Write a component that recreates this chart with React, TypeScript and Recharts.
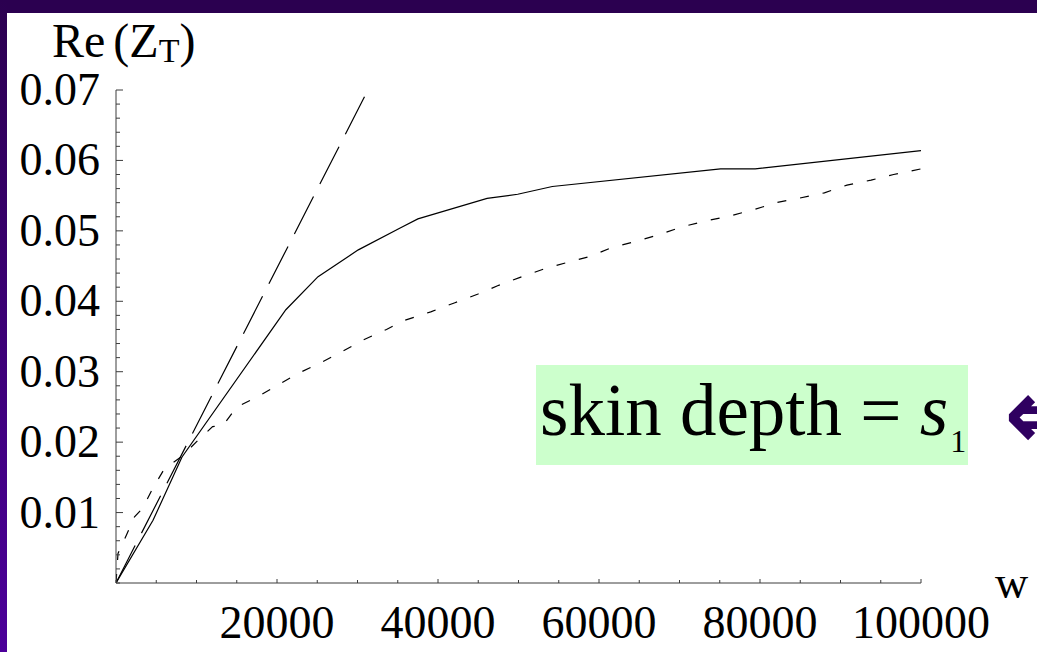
import { Line, LineChart, XAxis, YAxis } from 'recharts';

const W = 1037;
const H = 652;
const SERIF = "'Liberation Serif', 'DejaVu Serif', serif";
const INK = '#000000';
const AXIS = '#3c3c3c';
const FRAME_DARK = '#2b0050';
const FRAME_LIGHT = '#4c009a';
const BOX_GREEN = '#ccffcc';

// low-frequency asymptote
const slopeW = [0, 31300];
const slopeZ = [0, 0.07];

// solid curve
const solidW = [0, 4600, 8200, 21100, 25100, 30100, 35300, 37500, 46100, 49900, 54200, 75100, 79400, 100000];
const solidZ = [0, 0.0089, 0.0179, 0.0388, 0.0435, 0.0473, 0.0504, 0.0517, 0.0546, 0.0552, 0.0563, 0.0588, 0.0588, 0.0614];

// short-dashed curve
const dashW = [
  0, 250, 1300, 2300, 3300, 4500, 6000, 8200, 10400, 12000, 13300, 15000, 17500, 19500, 22500, 25300,
  28000, 30700, 33600, 35600, 39100, 42100, 44900, 47400, 50200, 53200, 56000, 59000, 61500, 64600,
  67600, 70100, 73200, 76200, 79200, 82000, 84700, 88000, 90800, 93800, 96600, 100000,
];
const dashZ = [
  0, 0.0042, 0.0068, 0.0094, 0.0106, 0.0133, 0.0162, 0.018, 0.0205, 0.0222, 0.0224, 0.025, 0.0264, 0.0277, 0.0297, 0.0312,
  0.0328, 0.0345, 0.036, 0.0372, 0.0385, 0.0398, 0.041, 0.0422, 0.0434, 0.0446, 0.0455, 0.0464, 0.0476, 0.0485,
  0.0495, 0.0505, 0.0514, 0.0521, 0.053, 0.054, 0.0546, 0.0554, 0.0565, 0.0572, 0.058, 0.0588,
];

const Y_LABELS = ['0.01', '0.02', '0.03', '0.04', '0.05', '0.06', '0.07'];
const X_LABELS = ['20000', '40000', '60000', '80000', '100000'];

const yTicks = Array.from({ length: 36 }, (_, i) => +(i * 0.002).toFixed(3));
const xTicks = Array.from({ length: 21 }, (_, i) => i * 5000);

const toPoints = (ws: number[], zs: number[]) => ws.map((w, i) => ({ w, z: zs[i] }));

function YTick(props: any) {
  const { x, y, payload } = props;
  const v: number = payload.value;
  const hundredths = Math.round(v * 100);
  const major = v > 0 && Math.abs(v * 100 - hundredths) < 1e-6;
  const label = major ? Y_LABELS[hundredths - 1] : null;
  return (
    <g>
      <line x1={x} x2={x + (major ? 7 : 4)} y1={y} y2={y} stroke={AXIS} strokeWidth={1} />
      {label && (
        <text x={100} y={y + 15} textAnchor="end" fontFamily={SERIF} fontSize={46} fill={INK}>
          {label}
        </text>
      )}
    </g>
  );
}

function XTick(props: any) {
  const { x, y, payload } = props;
  const v: number = payload.value;
  const major = v > 0 && v % 20000 === 0;
  const label = major ? X_LABELS[v / 20000 - 1] : null;
  return (
    <g>
      <line x1={x} x2={x} y1={y} y2={y - (major ? 4 : 3)} stroke={AXIS} strokeWidth={1} />
      {label && (
        <text x={x} y={y + 55} textAnchor="middle" fontFamily={SERIF} fontSize={46} fill={INK}>
          {label}
        </text>
      )}
    </g>
  );
}

export default function App() {
  return (
    <div style={{ position: 'absolute', left: 0, top: 0, width: W, height: H, background: '#ffffff', overflow: 'hidden' }}>
      <div style={{ position: 'absolute', left: 0, top: 0, width: W, height: 13, background: FRAME_DARK }} />
      <div
        style={{
          position: 'absolute',
          left: 0,
          top: 0,
          width: 7,
          height: H,
          background: `linear-gradient(to bottom, ${FRAME_DARK}, ${FRAME_LIGHT})`,
        }}
      />
      <div style={{ position: 'absolute', left: 0, top: 0 }}>
        <LineChart width={W} height={H} margin={{ top: 90, right: 116, bottom: 0, left: 0 }}>
          <XAxis
            type="number"
            dataKey="w"
            domain={[0, 100000]}
            ticks={xTicks}
            interval={0}
            height={69}
            tickSize={0}
            tickMargin={0}
            tickLine={false}
            axisLine={{ stroke: AXIS }}
            tick={XTick}
            allowDataOverflow
          />
          <YAxis
            type="number"
            dataKey="z"
            domain={[0, 0.07]}
            ticks={yTicks}
            interval={0}
            width={116}
            tickSize={0}
            tickMargin={0}
            tickLine={false}
            axisLine={{ stroke: AXIS }}
            tick={YTick}
            allowDataOverflow
          />
          <Line
            data={toPoints(slopeW, slopeZ)}
            dataKey="z"
            type="linear"
            stroke={INK}
            strokeWidth={1.2}
            strokeDasharray="42 14"
            dot={false}
            isAnimationActive={false}
          />
          <Line
            data={toPoints(dashW, dashZ)}
            dataKey="z"
            type="linear"
            stroke={INK}
            strokeWidth={1.2}
            strokeDasharray="9 14"
            dot={false}
            isAnimationActive={false}
          />
          <Line
            data={toPoints(solidW, solidZ)}
            dataKey="z"
            type="linear"
            stroke={INK}
            strokeWidth={1.2}
            dot={false}
            isAnimationActive={false}
          />
        </LineChart>
      </div>
      <svg width={W} height={H} style={{ position: 'absolute', left: 0, top: 0, pointerEvents: 'none' }}>
        <text x={52} y={57} fontFamily={SERIF} fontSize={48} fill={INK} style={{ whiteSpace: 'pre' }}>
          <tspan>Re</tspan>
          <tspan dx={8}>(Z</tspan>
          <tspan fontSize={34} dy={5}>T</tspan>
          <tspan dy={-5}>)</tspan>
        </text>
        <text x={995} y={598} fontFamily={SERIF} fontSize={46} fill={INK}>
          w
        </text>
        <rect x={536} y={365} width={432} height={100} fill={BOX_GREEN} />
        <text x={540} y={435} fontFamily={SERIF} fontSize={73} fill={INK} style={{ whiteSpace: 'pre' }}>
          <tspan>skin depth = </tspan>
          <tspan fontStyle="italic">s</tspan>
          <tspan fontSize={32} dx={2} dy={17}>1</tspan>
        </text>
        <text x={1004} y={449} fontFamily="'DejaVu Sans', sans-serif" fontWeight="bold" fontSize={100} fill="#2f0060">
          ⇐
        </text>
      </svg>
    </div>
  );
}
